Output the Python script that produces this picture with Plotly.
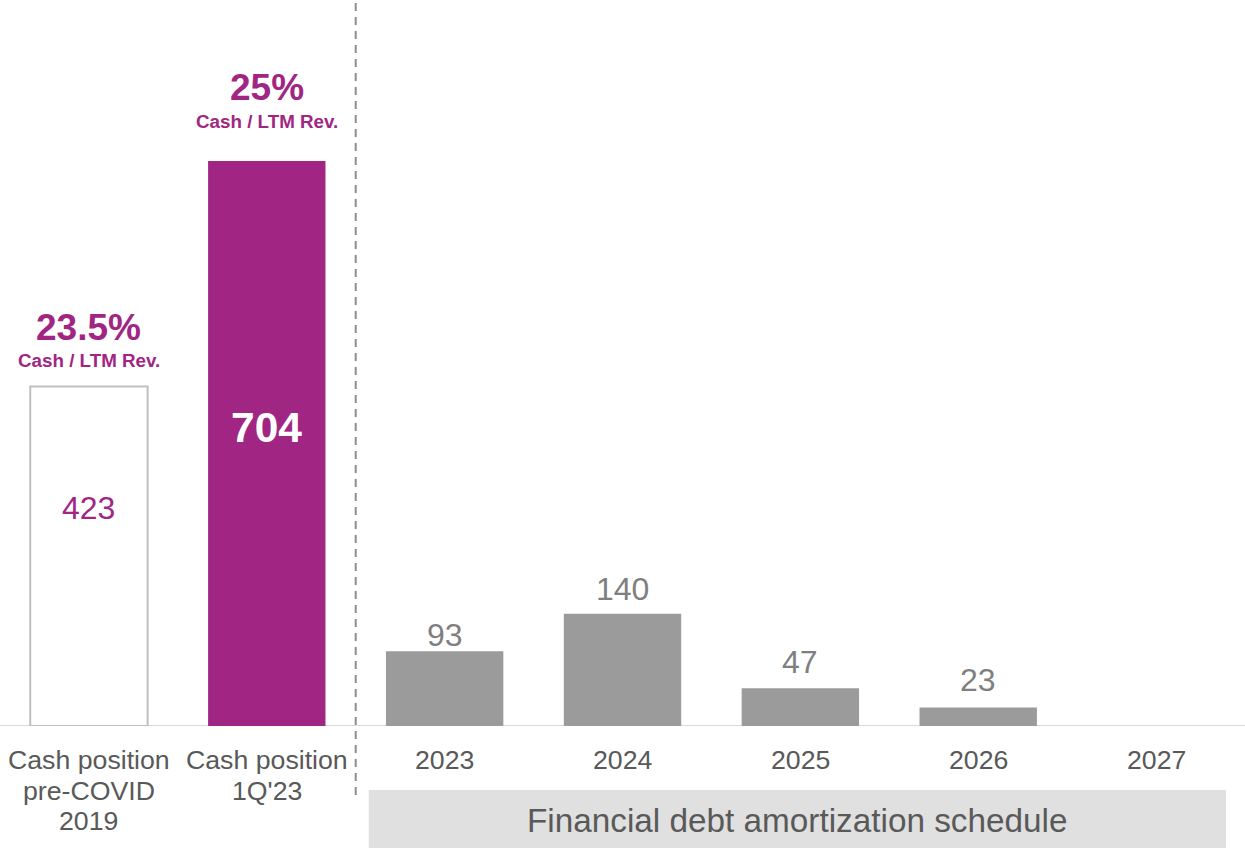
import plotly.graph_objects as go

# ---- data ----
categories = ["Cash position<br>pre-COVID<br>2019", "Cash position<br>1Q'23",
              "2023", "2024", "2025", "2026", "2027"]
cash_values = [423, 704]
debt_years = ["2023", "2024", "2025", "2026", "2027"]
debt_values = [93, 140, 47, 23, None]
ratio_labels = ["23.5%", "25%"]
ratio_sub = "Cash / LTM Rev."
section_title = "Financial debt amortization schedule"

PURPLE = "#A12683"
GRAY_BAR = "#9B9B9B"
GRAY_TXT = "#7F7F7F"
DARK_TXT = "#595959"
FONT = "Liberation Sans, Arial, sans-serif"

x_idx = list(range(len(categories)))

fig = go.Figure()

# Cash pre-COVID (outlined bar)
fig.add_trace(go.Bar(
    x=[0], y=[cash_values[0]], width=0.66,
    marker=dict(color="white", line=dict(color="#BFBFBF", width=2)),
    hoverinfo="skip", showlegend=False))
# Cash 1Q'23 (purple)
fig.add_trace(go.Bar(
    x=[1], y=[cash_values[1]], width=0.66,
    marker=dict(color=PURPLE, line=dict(width=0)),
    hoverinfo="skip", showlegend=False))
# Debt amortization
fig.add_trace(go.Bar(
    x=x_idx[2:], y=debt_values, width=0.66,
    marker=dict(color=GRAY_BAR, line=dict(width=0)),
    hoverinfo="skip", showlegend=False))

annotations = []
# debt value labels above bars (pixel offsets above bar top)
label_shift = [16, 25, 26, 28, 0]
for xi, v, s in zip(x_idx[2:], debt_values, label_shift):
    if v is None:
        continue
    annotations.append(dict(x=xi, y=v, text=str(v), showarrow=False,
                            xref="x", yref="y", yanchor="middle", yshift=s,
                            font=dict(family=FONT, size=32, color=GRAY_TXT)))
# values inside cash bars
annotations.append(dict(x=0, y=cash_values[0] * 0.642, text=str(cash_values[0]),
                        showarrow=False, xref="x", yref="y", yanchor="middle",
                        font=dict(family=FONT, size=32, color=PURPLE)))
annotations.append(dict(x=1, y=cash_values[1] * 0.529, text="<b>%d</b>" % cash_values[1],
                        showarrow=False, xref="x", yref="y", yanchor="middle",
                        font=dict(family=FONT, size=42.5, color="white")))
# ratio labels above cash bars
pct_offsets = [(cash_values[0] + 73, cash_values[0] + 33),
               (cash_values[1] + 91, cash_values[1] + 49)]
for i in range(2):
    annotations.append(dict(x=i, y=pct_offsets[i][0], text="<b>%s</b>" % ratio_labels[i],
                            showarrow=False, xref="x", yref="y", yanchor="middle",
                            font=dict(family=FONT, size=37, color=PURPLE)))
    annotations.append(dict(x=i, y=pct_offsets[i][1], text="<b>%s</b>" % ratio_sub,
                            showarrow=False, xref="x", yref="y", yanchor="middle",
                            font=dict(family=FONT, size=18.8, color=PURPLE)))
# category labels (one annotation per line)
for i, c in enumerate(categories):
    for k, line in enumerate(c.split("<br>")):
        annotations.append(dict(x=i, y=0, text=line, showarrow=False,
                                xref="x", yref="y", yanchor="middle",
                                yshift=-(34 + 30.5 * k),
                                font=dict(family=FONT, size=26.7, color=DARK_TXT)))
# section title
annotations.append(dict(x=3.98, y=0, text=section_title, showarrow=False,
                        xref="x", yref="y", yanchor="middle", yshift=-94,
                        font=dict(family=FONT, size=33.3, color=DARK_TXT)))

shapes = [
    # axis baseline
    dict(type="line", xref="paper", yref="y", x0=0, x1=1, y0=0, y1=0,
         line=dict(color="#D9D9D9", width=2), layer="below"),
    # dashed separator
    dict(type="line", xref="x", yref="paper", x0=1.5, x1=1.5, y0=-0.095, y1=1.0,
         line=dict(color="#8C8C8C", width=2, dash="8px,6px")),
    # section box
    dict(type="rect", xref="x", yref="paper", x0=1.573, x1=6.393, y0=-0.17, y1=-0.0882,
         fillcolor="#E0E0E0", line=dict(width=0), layer="below"),
]

fig.update_layout(
    width=1245, height=848,
    margin=dict(l=0, r=0, t=0, b=122),
    paper_bgcolor="white", plot_bgcolor="white",
    xaxis=dict(range=[-0.5, 6.5], showticklabels=False, showgrid=False,
               zeroline=False, showline=False, fixedrange=True),
    yaxis=dict(range=[0, 904.6], showticklabels=False, showgrid=False,
               zeroline=False, showline=False, fixedrange=True),
    annotations=annotations, shapes=shapes,
    font=dict(family=FONT),
    hovermode=False,
)

fig.write_html("out.html", config={"displayModeBar": False},
               post_script="document.body.style.margin='0';document.body.style.overflow='hidden';")
